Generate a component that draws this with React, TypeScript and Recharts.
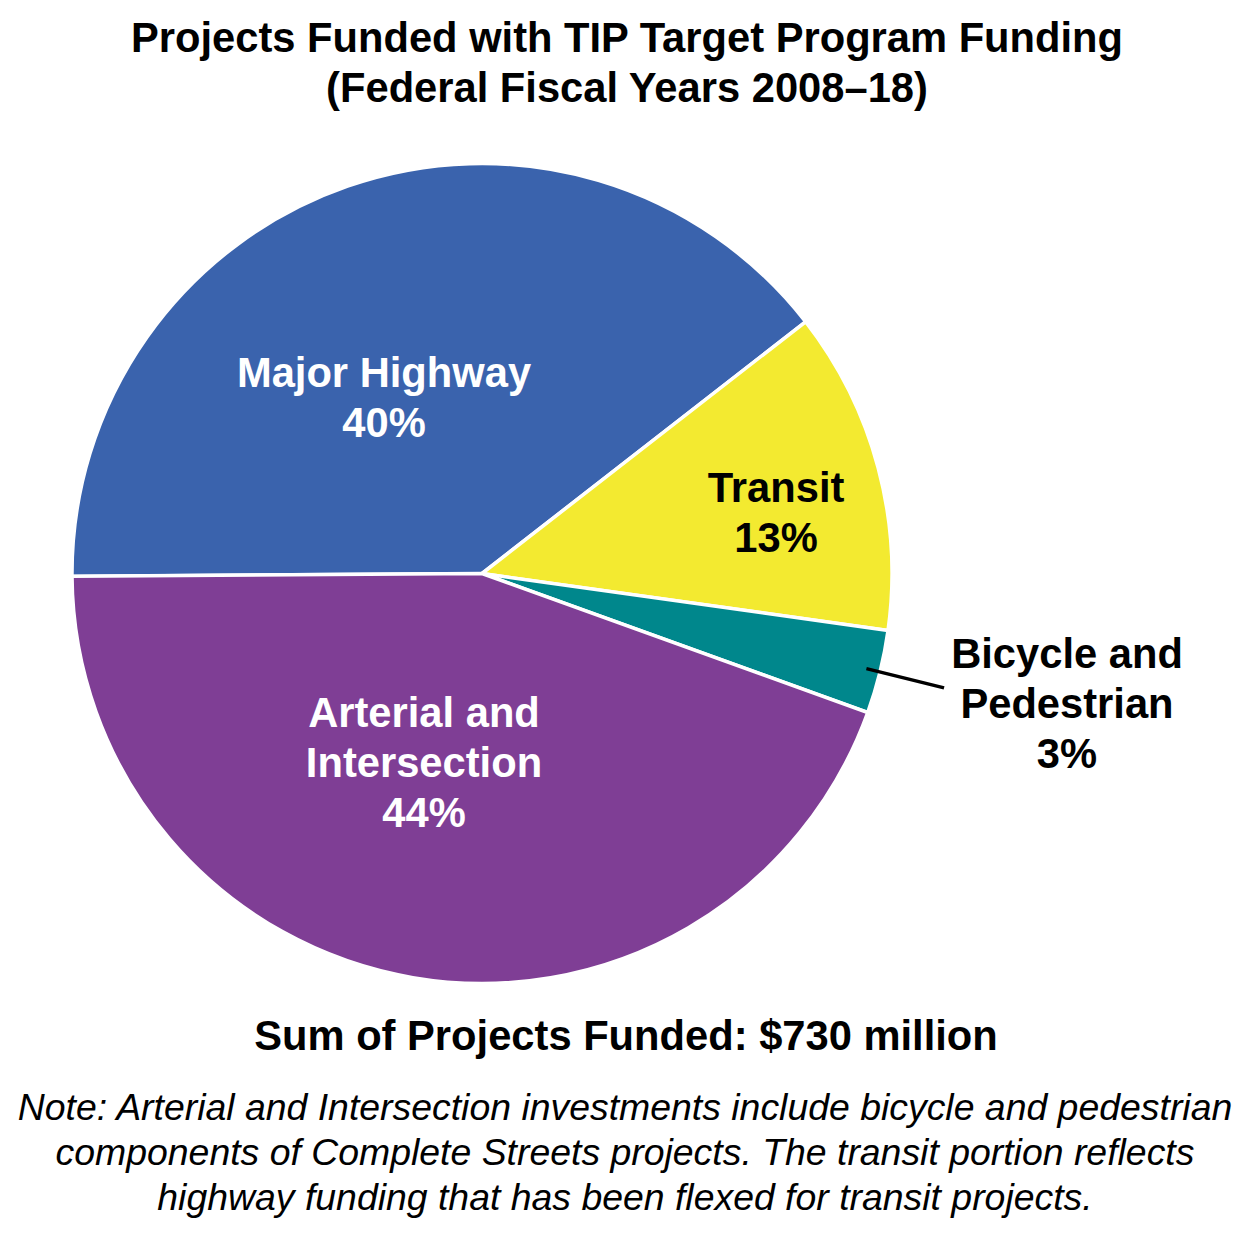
import React from 'react';
import { PieChart, Pie, Cell } from 'recharts';

// ---- data ----
const categories = ['Major Highway', 'Transit', 'Bicycle and Pedestrian', 'Arterial and Intersection'];
const fundingMillions = [289, 93, 24, 324];
const percentLabels = ['40%', '13%', '3%', '44%'];
const labelTextLines = [['Major Highway'], ['Transit'], ['Bicycle and', 'Pedestrian'], ['Arterial and', 'Intersection']];

const titleLines = ['Projects Funded with TIP Target Program Funding', '(Federal Fiscal Years 2008\u201318)'];
const sumText = 'Sum of Projects Funded: $730 million';
const noteLines = [
  'Note: Arterial and Intersection investments include bicycle and pedestrian',
  'components of Complete Streets projects. The transit portion reflects',
  'highway funding that has been flexed for transit projects.',
];

// ---- styles ----
const colors = ['#3A63AD', '#F3EA30', '#00878C', '#7F3E95'];
const labelColors = ['#FFFFFF', '#000000', '#000000', '#FFFFFF'];
// first-line baseline offset of each label block, relative to pie centre
const labelOffsets = [
  { dx: -98, dy: -186.5 },
  { dx: 294, dy: -71.5 },
  { dx: 585, dy: 94.5 },
  { dx: -58, dy: 153.5 },
];
const FONT = '"Liberation Sans", Arial, Helvetica, sans-serif';
const BOLD_SIZE = 41.7;
const NOTE_SIZE = 37.4;
const W = 1250;
const H = 1238;
const CX = 482;
const CY = 573.5;
const R = 410;

const chartData = categories.map((name, i) => ({ name, value: fundingMillions[i], pct: percentLabels[i] }));

const RAD = Math.PI / 180;

function renderLabel(props: any) {
  const { cx, cy, midAngle, outerRadius, index } = props;
  const off = labelOffsets[index];
  const lines = [...labelTextLines[index], percentLabels[index]];
  const x = cx + off.dx;
  const y0 = cy + off.dy;
  const isBike = index === 2;
  const cos = Math.cos(-midAngle * RAD);
  const sin = Math.sin(-midAngle * RAD);
  return (
    <g key={`lbl-${index}`}>
      {isBike && (
        <line
          x1={cx + (outerRadius - 14) * cos}
          y1={cy + (outerRadius - 14) * sin}
          x2={cx + (outerRadius + 66) * cos}
          y2={cy + (outerRadius + 66) * sin}
          stroke="#000"
          strokeWidth={3.5}
        />
      )}
      {lines.map((t, k) => (
        <text
          key={k}
          x={x}
          y={y0 + k * 50}
          textAnchor="middle"
          fill={labelColors[index]}
          fontFamily={FONT}
          fontWeight="bold"
          fontSize={BOLD_SIZE}
        >
          {t}
        </text>
      ))}
    </g>
  );
}

export default function App() {
  return (
    <div style={{ position: 'absolute', left: 0, top: 0, width: W, height: H, background: '#fff' }}>
      <PieChart width={W} height={H} margin={{ top: 0, right: 0, bottom: 0, left: 0 }}>
        <Pie
          data={chartData}
          dataKey="value"
          nameKey="name"
          cx={CX}
          cy={CY}
          innerRadius={0}
          outerRadius={R}
          startAngle={180.4}
          endAngle={-179.6}
          stroke="#FFFFFF"
          strokeWidth={3.5}
          label={renderLabel}
          labelLine={false}
          isAnimationActive={false}
        >
          {chartData.map((d, i) => (
            <Cell key={d.name} fill={colors[i]} />
          ))}
        </Pie>
      </PieChart>
      <svg
        width={W}
        height={H}
        style={{ position: 'absolute', left: 0, top: 0, pointerEvents: 'none' }}
      >
        {titleLines.map((t, i) => (
          <text key={t} x={627} y={52 + i * 50} textAnchor="middle" fontFamily={FONT} fontWeight="bold" fontSize={BOLD_SIZE} fill="#000">
            {t}
          </text>
        ))}
        <text x={626} y={1050} textAnchor="middle" fontFamily={FONT} fontWeight="bold" fontSize={BOLD_SIZE} fill="#000">
          {sumText}
        </text>
        {noteLines.map((t, i) => (
          <text key={t} x={625} y={1120 + i * 45} textAnchor="middle" fontFamily={FONT} fontStyle="italic" fontSize={NOTE_SIZE} fill="#000">
            {t}
          </text>
        ))}
      </svg>
    </div>
  );
}
